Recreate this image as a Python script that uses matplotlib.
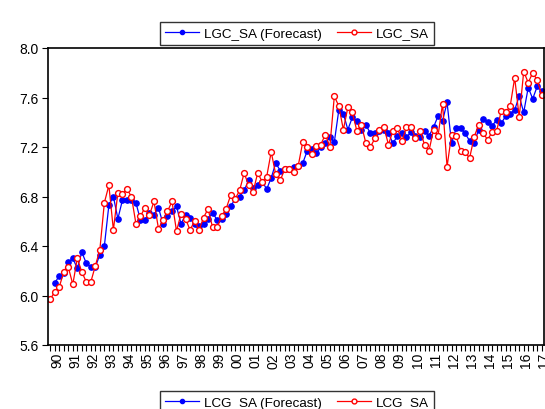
import numpy as np
import matplotlib
matplotlib.use("Agg")
import matplotlib.pyplot as plt
from matplotlib.lines import Line2D

# Serie trimestral 1990Q1 - 2017Q2
lgc_sa = [5.97, 6.03, 6.07, 6.19, 6.23, 6.09, 6.30, 6.19, 6.11, 6.11,
          6.24, 6.37, 6.75, 6.89, 6.53, 6.83, 6.82, 6.86, 6.80, 6.58,
          6.64, 6.71, 6.65, 6.76, 6.54, 6.61, 6.68, 6.76, 6.52, 6.66,
          6.62, 6.53, 6.60, 6.53, 6.63, 6.70, 6.55, 6.55, 6.64, 6.70,
          6.81, 6.78, 6.85, 6.99, 6.89, 6.84, 6.99, 6.92, 6.96, 7.16,
          6.98, 6.93, 7.02, 7.02, 7.00, 7.05, 7.24, 7.20, 7.14, 7.21,
          7.22, 7.30, 7.20, 7.61, 7.53, 7.34, 7.52, 7.48, 7.33, 7.38,
          7.23, 7.20, 7.27, 7.34, 7.36, 7.22, 7.33, 7.35, 7.25, 7.36,
          7.36, 7.27, 7.33, 7.22, 7.17, 7.34, 7.29, 7.55, 7.04, 7.30,
          7.29, 7.17, 7.16, 7.11, 7.28, 7.38, 7.31, 7.26, 7.32, 7.33,
          7.49, 7.48, 7.53, 7.76, 7.44, 7.81, 7.72, 7.80, 7.74, 7.62]

lgc_forecast = [np.nan, 6.10, 6.16, 6.18, 6.27, 6.30, 6.22, 6.35, 6.26, 6.23,
                6.23, 6.33, 6.40, 6.73, 6.80, 6.62, 6.77, 6.77, 6.77, 6.75,
                6.61, 6.61, 6.67, 6.65, 6.71, 6.58, 6.64, 6.68, 6.72, 6.58,
                6.65, 6.63, 6.58, 6.56, 6.58, 6.62, 6.67, 6.61, 6.62, 6.66,
                6.72, 6.78, 6.80, 6.85, 6.93, 6.87, 6.89, 6.92, 6.86, 6.95,
                7.07, 7.01, 7.02, 7.02, 7.04, 7.05, 7.07, 7.17, 7.18, 7.15,
                7.20, 7.23, 7.28, 7.24, 7.50, 7.47, 7.34, 7.44, 7.41, 7.34,
                7.38, 7.31, 7.31, 7.33, 7.34, 7.31, 7.23, 7.29, 7.31, 7.28,
                7.32, 7.29, 7.28, 7.33, 7.29, 7.36, 7.45, 7.41, 7.56, 7.23,
                7.35, 7.35, 7.31, 7.25, 7.23, 7.34, 7.43, 7.40, 7.37, 7.42,
                7.39, 7.45, 7.47, 7.50, 7.61, 7.48, 7.68, 7.59, 7.69, 7.65]

year_labels = ['90', '91', '92', '93', '94', '95', '96', '97', '98', '99',
               '00', '01', '02', '03', '04', '05', '06', '07', '08', '09',
               '10', '11', '12', '13', '14', '15', '16', '17']
y_ticks = [5.6, 6.0, 6.4, 6.8, 7.2, 7.6, 8.0]

plt.rcParams['font.family'] = ['Liberation Sans', 'DejaVu Sans']

n = len(lgc_sa)
x = np.arange(n)

fig = plt.figure(figsize=(5.45, 4.10), dpi=100)
ax = fig.add_axes([48 / 545, 1 - 346 / 410, 496 / 545, 297 / 410])

ax.plot(x, lgc_forecast, color='#0000ff', lw=0.9, marker='o', ms=3.8,
        mfc='#0000ff', mec='#0000ff')
ax.plot(x, lgc_sa, color='#ff0000', lw=0.9, marker='o', ms=4.2,
        mfc='white', mec='#ff0000', mew=1.0)

ax.set_xlim(-0.5, n - 0.5)
ax.set_ylim(5.6, 8.0)
ax.set_yticks(y_ticks)
ax.set_yticklabels(['%.1f' % v for v in y_ticks])

# etiquetas centradas en cada año, marcas cortas en cada trimestre
centers = [4 * i + 1.5 for i in range(len(year_labels))]
ax.set_xticks(centers)
ax.set_xticklabels(year_labels, rotation=90)
ax.set_xticks(np.arange(0, n), minor=True)
ax.tick_params(axis='x', which='major', length=0, pad=5, labelsize=10)
ax.tick_params(axis='x', which='minor', length=4, width=0.8)
ax.tick_params(axis='y', length=4, width=0.8, labelsize=10, pad=3)
for s in ax.spines.values():
    s.set_linewidth(1.2)

def handles(prefix):
    h1 = Line2D([], [], color='#0000ff', lw=0.9, marker='o', ms=3, mfc='#0000ff', mec='#0000ff')
    h2 = Line2D([], [], color='#ff0000', lw=0.9, marker='o', ms=3.5, mfc='white', mec='#ff0000')
    return [h1, h2], [prefix + ' (Forecast)', prefix]

leg_kw = dict(loc='upper center', ncol=2, frameon=True, fancybox=False,
              edgecolor='black', fontsize=9.7, handlelength=2.5,
              columnspacing=1.1, borderpad=0.4, handletextpad=0.4)

h, l = handles('LGC_SA')
fig.legend(h, l, bbox_to_anchor=(0.545, 1 - 16 / 410), **leg_kw)

h, l = handles('LCG_SA')
fig.legend(h, l, bbox_to_anchor=(0.545, 1 - 385 / 410), **leg_kw)

fig.savefig('out.png', dpi=100)
